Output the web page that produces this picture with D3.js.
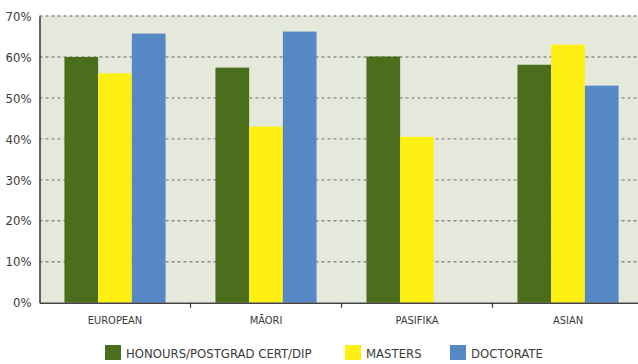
<!DOCTYPE html>
<html>
<head>
<meta charset="utf-8">
<script src="https://cdn.jsdelivr.net/npm/d3@7"></script>
<style>
  html, body { margin: 0; padding: 0; background: #fff; }
  svg { display: block; }
  text { font-family: "Liberation Sans Narrow", "DejaVu Sans Condensed", "Arial Narrow", sans-serif; fill: #3a3a3a; }
</style>
</head>
<body>
<svg id="chart" width="638" height="364"></svg>
<script>
// Completion rates by ethnic group and qualification level
const categories = ["EUROPEAN", "MĀORI", "PASIFIKA", "ASIAN"];
const seriesNames = ["HONOURS/POSTGRAD CERT/DIP", "MASTERS", "DOCTORATE"];
const honours   = [0.600, 0.574, 0.601, 0.581];
const masters   = [0.560, 0.430, 0.405, 0.630];
const doctorate = [0.657, 0.662, null, 0.530];
const yTicks = [0, 0.1, 0.2, 0.3, 0.4, 0.5, 0.6, 0.7];
const colors = ["#4a6e1b", "#fff013", "#5688c6"];

const seriesValues = [honours, masters, doctorate];

const svg = d3.select("#chart");
const plotLeft = 39.5, plotRight = 643.5, plotTop = 16, plotBottom = 302.7;

const x = d3.scaleBand().domain(categories).range([plotLeft, plotRight]).padding(0);
const x1 = d3.scaleBand().domain(seriesNames).range([0, x.bandwidth()])
  .paddingInner(0).paddingOuter(0.74);
const y = d3.scaleLinear().domain([0, 0.7]).range([plotBottom, plotTop]);

// plot background
svg.append("rect")
  .attr("x", plotLeft).attr("y", plotTop)
  .attr("width", 638 - plotLeft).attr("height", plotBottom - plotTop)
  .attr("fill", "#e4e9dc");

// dashed gridlines
svg.append("g")
  .selectAll("line")
  .data(yTicks.filter(d => d > 0))
  .join("line")
  .attr("x1", plotLeft).attr("x2", 638)
  .attr("y1", d => y(d)).attr("y2", d => y(d))
  .attr("stroke", "#8a8a8a")
  .attr("stroke-width", 1.4)
  .attr("stroke-dasharray", "3,3");

// bars
const rows = [];
categories.forEach((c, i) => {
  seriesNames.forEach((s, j) => {
    const v = seriesValues[j][i];
    if (v != null) rows.push({ c, s, v, color: colors[j] });
  });
});
svg.append("g")
  .selectAll("rect")
  .data(rows)
  .join("rect")
  .attr("x", d => x(d.c) + x1(d.s))
  .attr("y", d => y(d.v))
  .attr("width", x1.bandwidth())
  .attr("height", d => plotBottom - y(d.v))
  .attr("fill", d => d.color);

// y axis
const yAxis = svg.append("g")
  .attr("transform", `translate(${plotLeft},0)`)
  .call(d3.axisLeft(y).tickValues(yTicks).tickFormat(d3.format(".0%")).tickSize(0).tickPadding(8));
yAxis.select(".domain").attr("stroke", "#333").attr("stroke-width", 1.5);
yAxis.selectAll("text").attr("font-size", 13).style("fill", "#3a3a3a");

// x axis with separators between groups
const xAxis = svg.append("g")
  .attr("transform", `translate(0,${plotBottom})`)
  .call(d3.axisBottom(x).tickSize(0).tickPadding(14));
xAxis.select(".domain").attr("stroke", "#444").attr("stroke-width", 1.5);
xAxis.selectAll("text").attr("font-size", 11).style("fill", "#3a3a3a");
xAxis.append("g")
  .selectAll("line")
  .data(categories.slice(1))
  .join("line")
  .attr("x1", d => x(d)).attr("x2", d => x(d))
  .attr("y1", 0).attr("y2", 5)
  .attr("stroke", "#333").attr("stroke-width", 1.2);

// legend
const legendX = [105, 345, 450];
const legend = svg.append("g")
  .selectAll("g")
  .data(seriesNames)
  .join("g")
  .attr("transform", (d, i) => `translate(${legendX[i]},345)`);
legend.append("rect")
  .attr("width", 16).attr("height", 15)
  .attr("fill", (d, i) => colors[i]);
legend.append("text")
  .attr("x", 21).attr("y", 13)
  .attr("font-size", 13)
  .text(d => d);
</script>
</body>
</html>
